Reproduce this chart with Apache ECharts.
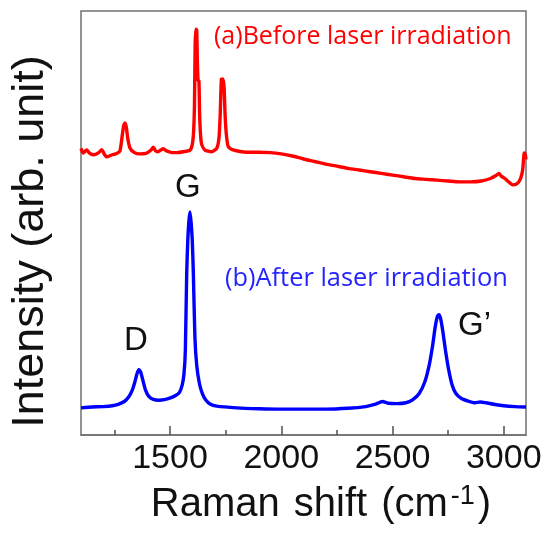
<!DOCTYPE html>
<html>
<head>
<meta charset="utf-8">
<script src="https://cdn.jsdelivr.net/npm/echarts@6/dist/echarts.min.js"></script>
<style>html,body{margin:0;padding:0;background:#fff}#c{width:543px;height:533px}</style>
</head>
<body>
<div id="c"></div>
<script>
// Raman shift (cm-1) and intensity (arb. unit, 0-100 plot scale)
var beforeX = [1100,1110,1125,1140,1160,1180,1193,1205,1215,1240,1260,1275,1285,1292,1298,1304,1310,1320,1340,1365,1395,1415,1425,1435,1446,1458,1470,1485,1510,1530,1560,1590,1600,1606,1610,1613,1616,1620,1623,1626,1630,1633,1637,1642,1657,1687,1710,1720,1726,1731,1738,1743,1748,1754,1762,1780,1845,1900,1950,2000,2050,2100,2150,2200,2250,2300,2350,2400,2450,2500,2550,2600,2650,2700,2750,2800,2850,2900,2940,2965,2978,2990,3005,3020,3040,3060,3075,3085,3092,3096,3100];
var beforeY = [67.6,66.5,67.2,66.4,66.1,66.6,67.3,66.2,65.6,66.1,66.4,67.0,70.5,73.0,73.6,72.5,70.0,67.7,66.6,66.3,66.5,67.2,67.9,67.0,66.8,67.2,67.5,67.0,66.6,66.6,66.8,67.2,68.5,71.5,78,92,95.7,95.5,88,83.7,83.5,76,71,68.6,67.2,66.8,67.6,70.0,76,83.9,84.0,82,75,70.5,68.0,67.3,66.7,66.7,66.6,66.3,65.8,65.1,64.5,63.9,63.4,62.9,62.5,62.1,61.7,61.3,60.9,60.5,60.3,60.1,59.9,59.7,59.7,59.9,60.5,61.2,61.7,61.0,60.5,59.8,59.0,59.3,60.4,62.5,66.5,66.3,65.0];
var afterX = [1100,1150,1200,1240,1270,1295,1315,1330,1342,1352,1360,1368,1378,1390,1405,1425,1450,1480,1505,1525,1542,1555,1563,1569,1575,1580,1585,1590,1595,1600,1605,1612,1620,1632,1645,1660,1680,1710,1800,1900,2000,2100,2200,2300,2380,2420,2455,2480,2520,2560,2590,2620,2645,2665,2680,2692,2702,2709,2716,2726,2738,2752,2768,2785,2810,2840,2870,2895,2920,2960,3000,3050,3100];
var afterY = [6.4,6.6,6.7,6.9,7.3,7.9,9.0,10.5,12.5,14.5,15.4,14.9,12.9,10.6,9.1,8.4,8.2,8.4,8.8,9.3,10.0,11.8,14.5,20,38,46,50.5,52.6,50,46,38,23,16.5,12.2,9.8,8.3,7.3,6.8,6.4,6.2,6.1,6.1,6.1,6.3,6.7,7.2,7.9,7.5,7.4,7.6,8.3,9.8,12.5,16.5,21,25.5,28.0,28.4,27.5,24.5,20,15.5,11.8,9.8,8.6,8.0,7.6,7.8,7.6,7.2,6.9,6.7,6.6];
var majorTicks = [1500,2000,2500,3000];
var minorTicks = [1250,1750,2250,2750];
var xRange = [1100,3100];

function zip(xs, ys){ return xs.map(function(x,i){ return [x, ys[i]]; }); }

var SANS = 'Liberation Sans, Arial, sans-serif';
var NOTE = 'Open Sans, Lato, sans-serif';
var chart = echarts.init(document.getElementById('c'), null, {renderer:'canvas'});
chart.setOption({
  animation:false,
  backgroundColor:'#fff',
  grid:{left:81,right:17,top:11,bottom:98,show:true,borderColor:'#707070',borderWidth:1.5,containLabel:false,outerBoundsMode:'none'},
  xAxis:[{
    type:'value',min:xRange[0],max:xRange[1],position:'bottom',
    axisLine:{show:true,lineStyle:{color:'#707070',width:1.5}},
    axisTick:{show:true,inside:true,length:9,customValues:majorTicks,lineStyle:{color:'#505050',width:1.5}},
    axisLabel:{show:true,customValues:majorTicks,margin:7,fontSize:34,fontFamily:SANS,color:'#111',formatter:function(v){return String(v);}},
    splitLine:{show:false},
    name:'{a|Raman}{w| }{a|shift}{w| }{a|(cm}{b|-1}{a|)}',nameLocation:'middle',nameGap:48,
    nameTextStyle:{padding:[0,0,0,35],rich:{
      a:{fontSize:40,fontFamily:SANS,color:'#111',lineHeight:44},
      w:{fontSize:40,fontFamily:SANS,width:14,lineHeight:44},
      b:{fontSize:27,fontFamily:SANS,color:'#111',verticalAlign:'top',lineHeight:27,padding:[0,3,0,3]}}}
  },{
    type:'value',min:xRange[0],max:xRange[1],position:'bottom',
    axisLine:{show:false},
    axisTick:{show:true,inside:true,length:5,customValues:minorTicks,lineStyle:{color:'#505050',width:1.5}},
    axisLabel:{show:false},splitLine:{show:false}
  }],
  yAxis:{
    type:'value',min:0,max:100,
    axisLine:{show:false},axisTick:{show:false},axisLabel:{show:false},splitLine:{show:false},
    name:'Intensity (arb. unit)',nameLocation:'middle',nameGap:28,
    nameTextStyle:{fontSize:45,fontFamily:SANS,color:'#111',padding:[0,37,0,0]}
  },
  series:[
    {type:'line',xAxisIndex:0,data:zip(beforeX,beforeY),showSymbol:false,smooth:0.2,lineStyle:{color:'#ff0000',width:3.4},z:3},
    {type:'line',xAxisIndex:0,data:zip(afterX,afterY),showSymbol:false,smooth:0.2,lineStyle:{color:'#0000ff',width:3.4},z:3}
  ],
  graphic:[
    {type:'text',x:214,y:36.5,style:{text:'(a)Before laser irradiation',fontSize:25,fontFamily:NOTE,fill:'#ff0000',align:'left',verticalAlign:'middle'}},
    {type:'text',x:225,y:279,style:{text:'(b)After laser irradiation',fontSize:25.4,fontFamily:NOTE,fill:'#2424ff',align:'left',verticalAlign:'middle'}},
    {type:'text',left:175,top:171,style:{text:'G',fontSize:33,fontFamily:SANS,fill:'#111'}},
    {type:'text',left:124,top:324,style:{text:'D',fontSize:33,fontFamily:SANS,fill:'#111'}},
    {type:'text',left:458,top:309,style:{text:'G\u2019',fontSize:33,fontFamily:SANS,fill:'#111'}}
  ]
});
</script>
</body>
</html>
